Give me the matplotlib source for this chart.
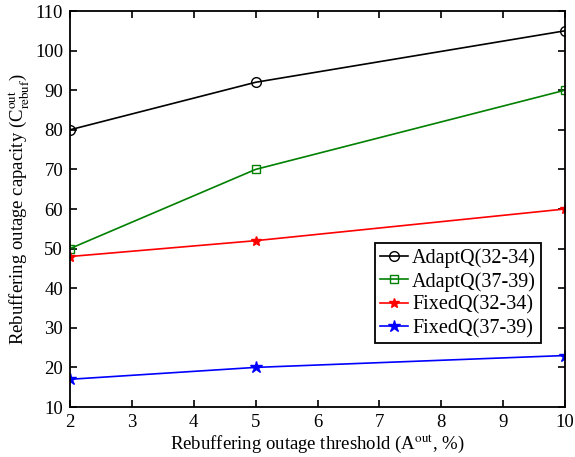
import matplotlib
matplotlib.use("Agg")
import matplotlib.pyplot as plt

plt.rcParams['font.family'] = ['Liberation Serif', 'DejaVu Serif']
plt.rcParams['mathtext.fontset'] = 'stix'

x = [2, 5, 10]
adapt_32 = [80, 92, 105]
adapt_37 = [50, 70, 90]
fixed_32 = [48, 52, 60]
fixed_37 = [17, 20, 23]
names = ['AdaptQ(32-34)', 'AdaptQ(37-39)', 'FixedQ(32-34)', 'FixedQ(37-39)']

fig = plt.figure(figsize=(5.75, 4.57), dpi=100)
ax = fig.add_axes([70/575, 50/457, 495/575, 396/457])

ax.plot(x, adapt_32, color='black', marker='o', mfc='none', ms=7, lw=1.2, label=names[0])
ax.plot(x, adapt_37, color='#008000', marker='s', mfc='none', ms=6, lw=1.2, label=names[1])
ax.plot(x, fixed_32, color='red', marker='*', ms=7, lw=1.2, label=names[2])
ax.plot(x, fixed_37, color='blue', marker='*', ms=9, lw=1.2, label=names[3])

ax.set_xlim(2, 10)
ax.set_ylim(10, 110)
ax.set_xticks(range(2, 11))
ax.set_yticks(range(10, 111, 10))
ax.tick_params(direction='in', labelsize=13.5, width=1.2, length=5, top=True, right=True, pad=5)
for s in ax.spines.values():
    s.set_linewidth(1.3)

ax.set_xlabel(r'Rebuffering outage threshold (A$^{\mathrm{out}}$, %)', fontsize=13.5, labelpad=1)
ax.set_ylabel(r'Rebuffering outage capacity (C$^{\mathrm{out}}_{\mathrm{rebuf}}$)', fontsize=13.5, labelpad=3)

leg = ax.legend(loc='upper left', bbox_to_anchor=(305/495, 164/396), fontsize=14.5,
                fancybox=False, edgecolor='black', framealpha=1,
                handlelength=1.4, handletextpad=0.2, borderpad=0.25, labelspacing=0.2, borderaxespad=0)
leg.get_frame().set_linewidth(1.3)

fig.savefig('out.png', dpi=100)
